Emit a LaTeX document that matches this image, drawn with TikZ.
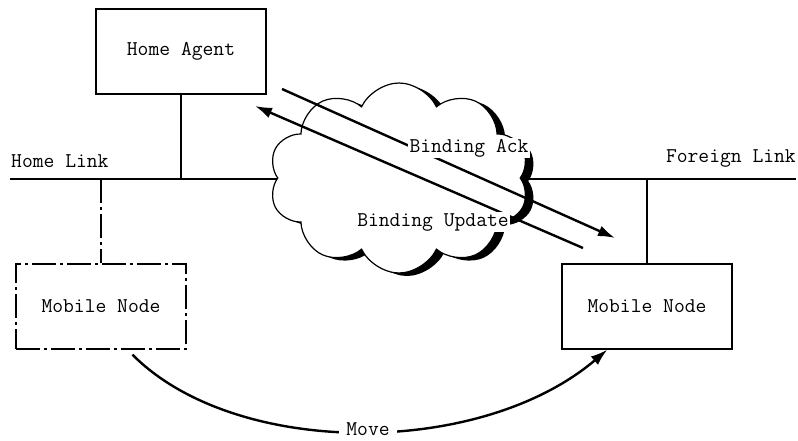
\documentclass[tikz,border=0pt]{standalone}
\usepackage{fontspec}
\usetikzlibrary{shapes.symbols,arrows.meta,calc}
\begin{document}
\begin{tikzpicture}[x=1pt,y=-1pt,
  txt/.style={font=\ttfamily\fontsize{21}{23}\selectfont},
  box/.style={draw,line width=1.2pt,minimum width=170pt,minimum height=85pt,inner sep=0pt,txt},
  dashbox/.style={box,dashdot},
  dashdot/.style={dash pattern=on 24pt off 4pt on 3pt off 4pt},
  link/.style={line width=1.2pt},
  lbl/.style={txt,inner sep=1pt},
  masklbl/.style={txt,fill=white,inner sep=1.5pt},
  msg/.style={line width=2.4pt,-{Latex[length=17pt,width=11pt]}},
  cloudshape/.style={cloud,cloud puffs=10,cloud puff arc=130,aspect=1.4,minimum width=260pt,minimum height=190pt,inner sep=0pt},
]
\useasboundingbox (0,0) rectangle (798,441);

% links
\coordinate (hl) at (10,179);
\coordinate (fl) at (796,179);
\draw[link] (hl) -- (fl);

% cloud with shadow
\node[cloudshape,fill=black] (cloudshadow) at (407,181) {};
\node[cloudshape,draw,line width=1.2pt,fill=white] (cloud) at (399,178) {};

% boxes
\node[box] (ha) at (181,51.5) {Home Agent};
\node[dashbox] (hmn) at (101,306.5) {Mobile Node};
\node[box] (fmn) at (647,306.5) {Mobile Node};

\coordinate (haj) at (181,179);
\coordinate (hmnj) at (101,179);
\coordinate (fmnj) at (647,179);
\draw[link] (ha.south) -- (haj);
\draw[link,dashdot] (hmnj) -- (hmn.north);
\draw[link] (fmnj) -- (fmn.north);

\node[lbl,anchor=west] (homelink) at (10,161) {Home Link};
\node[lbl,anchor=east] (foreignlink) at (797,158) {Foreign Link};

% messages
\coordinate (ackfrom) at (282,89);
\coordinate (ackto) at (615,238);
\coordinate (updfrom) at (583,248);
\coordinate (updto) at (255,106);
\draw[msg] (ackfrom) -- (ackto);
\draw[msg] (updfrom) -- (updto);
\node[masklbl] (acklbl) at (469,148) {Binding Ack};
\node[masklbl] (updlbl) at (433,222) {Binding Update};

% move
\coordinate (mvfrom) at ($(hmn.south west)+(117,5)$);
\coordinate (mvto) at ($(fmn.south west)+(46,0)$);
\draw[msg] (mvfrom) .. controls (235,458) and (480,458) .. (mvto);
\node[masklbl,inner xsep=7pt,inner ysep=0pt] (move) at (368,429) {Move};
\end{tikzpicture}
\end{document}
